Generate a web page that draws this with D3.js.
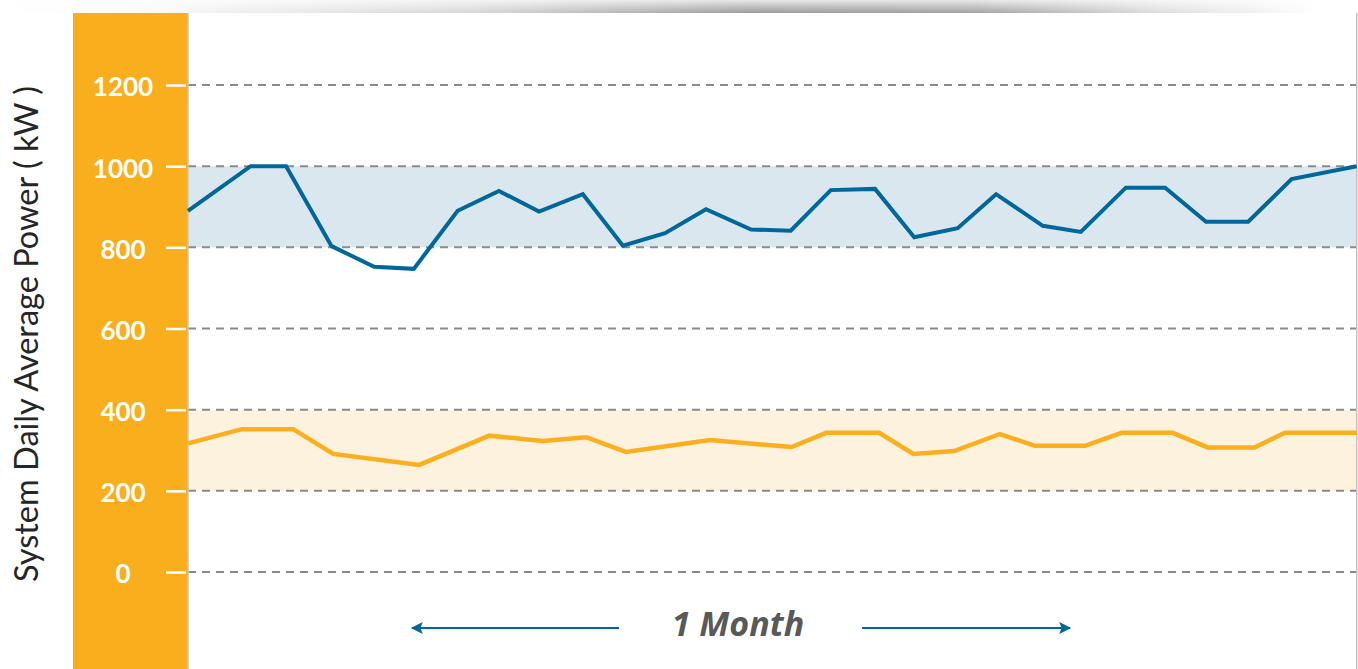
<!DOCTYPE html>
<html>
<head>
<meta charset="utf-8">
<script src="https://cdn.jsdelivr.net/npm/d3@7.9.0/dist/d3.min.js"></script>
<style>
  html, body { margin: 0; padding: 0; background: #fff; }
  svg { display: block; }
</style>
</head>
<body>
<div id="chart"></div>
<script>
// blue series (system total), day position within the month and kW
const blueDays = [0, 1.50, 2.35, 3.44, 4.46, 5.41, 6.46, 7.45, 8.41, 9.46, 10.42, 11.43, 12.41, 13.49,
    14.44, 15.40, 16.46, 17.40, 18.44, 19.36, 20.48, 21.39, 22.47, 23.41, 24.39, 25.40, 26.44, 28];
const blueValues = [890, 1000, 1000, 803, 752, 747, 890, 939, 888, 931, 804, 835, 894, 844,
    841, 941, 944, 825, 847, 931, 853, 838, 947, 947, 863, 863, 968, 1000];

// orange series
const orangeDays = [0, 1.29, 2.52, 3.48, 5.54, 7.22, 8.50, 9.54, 10.49, 12.51, 14.46, 15.29, 16.56,
    17.38, 18.36, 19.45, 20.29, 21.49, 22.37, 23.59, 24.43, 25.55, 26.28, 28];
const orangeValues = [317, 352, 352, 291, 264, 336, 323, 332, 296, 325, 308, 343, 343,
    291, 298, 340, 311, 311, 343, 343, 307, 307, 343, 343];

const blueBand = [800, 1000];
const orangeBand = [200, 400];
const yTicks = [0, 200, 400, 600, 800, 1000, 1200];
const yTitle = 'System Daily Average Power ( kW )';
const spanLabel = '1 Month';

const W = 1358, H = 669;
const plotLeft = 188, plotRight = 1356.7;
const sideLeft = 73, topY = 13;

const svg = d3.select('#chart')
    .append('svg')
    .attr('width', W)
    .attr('height', H);

const defs = svg.append('defs');

// top shadow
const shade = defs.append('linearGradient').attr('id', 'shade');
[[0, '#fff'], [0.1, '#fafafa'], [0.35, '#d6d6d6'], [0.55, '#9c9c9c'], [0.72, '#a3a3a3'], [0.85, '#dcdcdc'], [0.97, '#fff']]
    .forEach(([o, c]) => shade.append('stop').attr('offset', o).attr('stop-color', c));
const fade = defs.append('linearGradient').attr('id', 'fade')
    .attr('x1', 0).attr('x2', 0).attr('y1', 0).attr('y2', 1);
fade.append('stop').attr('offset', 0).attr('stop-color', '#fff').attr('stop-opacity', 0.75);
fade.append('stop').attr('offset', 1).attr('stop-color', '#fff').attr('stop-opacity', 0);

svg.append('rect').attr('x', 0).attr('y', 0).attr('width', W).attr('height', topY).attr('fill', 'url(#shade)');
svg.append('rect').attr('x', 0).attr('y', 0).attr('width', W).attr('height', topY).attr('fill', 'url(#fade)');

// arrow marker
defs.append('marker')
    .attr('id', 'arrow-end')
    .attr('viewBox', '0 0 10 10')
    .attr('refX', 9)
    .attr('refY', 5)
    .attr('markerWidth', 8)
    .attr('markerHeight', 6)
    .attr('markerUnits', 'strokeWidth')
    .attr('orient', 'auto')
    .append('path')
    .attr('d', 'M0,0 L10,5 L0,10 L2,5 z')
    .attr('fill', '#00679a');

const x = d3.scaleLinear().domain([0, 28]).range([plotLeft, plotRight]);
const y = d3.scaleLinear().domain([0, 1200]).range([572, 85]);

// orange side panel
svg.append('rect')
    .attr('x', sideLeft)
    .attr('y', topY)
    .attr('width', plotLeft - sideLeft)
    .attr('height', H - topY)
    .attr('fill', '#f9ae1d');

// bands
[[blueBand, '#dae7ef'], [orangeBand, '#fdf2dd']].forEach(([b, c]) => {
    svg.append('rect')
        .attr('x', x(0))
        .attr('width', x(28) - x(0))
        .attr('y', y(b[1]))
        .attr('height', y(b[0]) - y(b[1]))
        .attr('fill', c);
});

// dashed gridlines
svg.append('g')
    .selectAll('line')
    .data(yTicks)
    .join('line')
    .attr('x1', x(0))
    .attr('x2', x(28))
    .attr('y1', d => y(d))
    .attr('y2', d => y(d))
    .attr('stroke', '#8a8a8a')
    .attr('stroke-width', 2)
    .attr('stroke-dasharray', '8,6');

// left and right borders
[plotLeft, plotRight].forEach(px => {
    svg.append('line')
        .attr('x1', px).attr('x2', px)
        .attr('y1', topY).attr('y2', H)
        .attr('stroke', '#c4c4c4')
        .attr('stroke-width', 1.5);
});

// y axis
const yAxis = svg.append('g')
    .attr('transform', `translate(${plotLeft - 2},0)`)
    .call(d3.axisLeft(y).tickValues(yTicks).tickFormat(d3.format('d')).tickSize(20).tickPadding(0));
yAxis.select('.domain').remove();
yAxis.selectAll('.tick line').attr('stroke', '#fff').attr('stroke-width', 2.5);
yAxis.selectAll('.tick text')
    .attr('x', 123 - (plotLeft - 2))
    .attr('dy', '0.42em')
    .attr('text-anchor', 'middle')
    .attr('fill', '#fff')
    .style('font-family', 'Lato, sans-serif')
    .style('font-weight', 700)
    .style('font-size', '26px');

svg.append('text')
    .attr('transform', 'translate(38,334) rotate(-90)')
    .attr('text-anchor', 'middle')
    .attr('fill', '#262626')
    .style('font-family', 'Lato, sans-serif')
    .style('font-weight', 400)
    .style('font-size', '32.5px')
    .text(yTitle);

// series lines
const line = d3.line().x(d => x(d[0])).y(d => y(d[1]));
svg.append('path')
    .attr('d', line(d3.zip(orangeDays, orangeValues)))
    .attr('fill', 'none')
    .attr('stroke', '#fbaf1f')
    .attr('stroke-width', 4.5)
    .attr('stroke-linejoin', 'miter');
svg.append('path')
    .attr('d', line(d3.zip(blueDays, blueValues)))
    .attr('fill', 'none')
    .attr('stroke', '#00679a')
    .attr('stroke-width', 4)
    .attr('stroke-linejoin', 'miter');

// "1 Month" span annotation
const arrowY = 628;
svg.append('line')
    .attr('x1', 619).attr('x2', 412)
    .attr('y1', arrowY).attr('y2', arrowY)
    .attr('stroke', '#00679a').attr('stroke-width', 2)
    .attr('marker-end', 'url(#arrow-end)');
svg.append('line')
    .attr('x1', 862).attr('x2', 1070)
    .attr('y1', arrowY).attr('y2', arrowY)
    .attr('stroke', '#00679a').attr('stroke-width', 2)
    .attr('marker-end', 'url(#arrow-end)');
svg.append('text')
    .attr('x', 738)
    .attr('y', 636)
    .attr('text-anchor', 'middle')
    .attr('fill', '#595959')
    .style('font-family', '"Open Sans", sans-serif')
    .style('font-weight', 700)
    .style('font-style', 'italic')
    .style('font-size', '34px')
    .text(spanLabel);
</script>
</body>
</html>
